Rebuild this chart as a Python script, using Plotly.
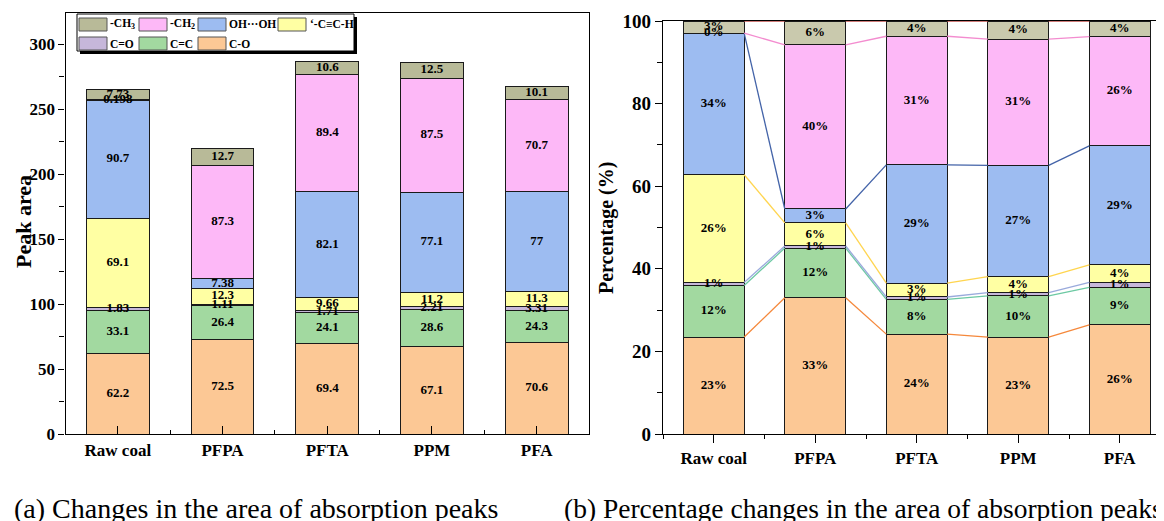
import plotly.graph_objects as go

W, H = 1164, 521
OFF = 8  # page margin of the rendered html body

# ---------------- data ----------------
samples = ["Raw coal", "PFPA", "PFTA", "PPM", "PFA"]
group_names = ["C-O", "C=C", "C=O", "‘-C≡C-H", "OH···OH", "-CH<sub>2</sub>", "-CH<sub>3</sub>"]  # bottom -> top
c_o = [62.2, 72.5, 69.4, 67.1, 70.6]
c_c = [33.1, 26.4, 24.1, 28.6, 24.3]
c_eq_o = [1.83, 1.11, 1.71, 2.21, 3.31]
c_triple_h = [69.1, 12.3, 9.66, 11.2, 11.3]
oh_oh = [90.7, 7.38, 82.1, 77.1, 77]
ch2 = [0.198, 87.3, 89.4, 87.5, 70.7]
ch3 = [7.73, 12.7, 10.6, 12.5, 10.1]
series = [c_o, c_c, c_eq_o, c_triple_h, oh_oh, ch2, ch3]

# ---------------- styles ----------------
fill_left = ["#fcc895", "#a2d9a0", "#c6b7da", "#ffffa3", "#9dbcf1", "#fdb8f7", "#b8ba98"]
fill_right = ["#fcc895", "#a2d9a0", "#c6b7da", "#ffffa3", "#9dbcf1", "#fdb8f7", "#c9c9ad"]
link_colors = ["#f5883b", "#6cc9a3", "#9aaadc", "#ffd54f", "#4363a8", "#f38ccf", "#c0504d"]
FONT = "Liberation Serif"
BW = 0.6

def px(x):
    return (x - OFF) / W

def py(y):
    return 1 - (y - OFF) / H

xs = list(range(len(samples)))
fig = go.Figure()

# ---------------- left: peak areas ----------------
cum = [0.0] * len(samples)
lab_x, lab_y, lab_t = [], [], []
for k, vals in enumerate(series):
    fig.add_trace(go.Bar(
        x=xs, y=vals, width=BW, xaxis="x", yaxis="y",
        marker=dict(color=fill_left[k], line=dict(color="#1a1a1a", width=1)),
        showlegend=False, hoverinfo="skip"))
    for i, v in enumerate(vals):
        lab_x.append(i)
        lab_y.append(cum[i] + v / 2)
        lab_t.append(f"{v:g}")
        cum[i] += v
fig.add_trace(go.Scatter(
    x=lab_x, y=lab_y, text=lab_t, mode="text", xaxis="x", yaxis="y",
    textfont=dict(family=FONT, size=13, color="black", weight="bold"),
    showlegend=False, hoverinfo="skip"))

# ---------------- right: percentages ----------------
totals = [sum(s[i] for s in series) for i in xs]
cum = [0.0] * len(samples)
lab_x, lab_y, lab_t = [], [], []
bounds = []
for k, vals in enumerate(series):
    pct = [v / totals[i] * 100 for i, v in enumerate(vals)]
    fig.add_trace(go.Bar(
        x=xs, y=pct, width=BW, xaxis="x2", yaxis="y2",
        marker=dict(color=fill_right[k], line=dict(color="#1a1a1a", width=1)),
        showlegend=False, hoverinfo="skip"))
    for i, p in enumerate(pct):
        lab_x.append(i)
        lab_y.append(cum[i] + p / 2)
        lab_t.append(f"{int(p + 0.5)}%")
        cum[i] += p
    bounds.append(list(cum))

for k, b in enumerate(bounds):
    lx, ly = [], []
    for i in range(len(samples) - 1):
        lx += [i + BW / 2, i + 1 - BW / 2, None]
        ly += [b[i], b[i + 1], None]
    fig.add_trace(go.Scatter(
        x=lx, y=ly, mode="lines", xaxis="x2", yaxis="y2",
        line=dict(color=link_colors[k], width=1.3),
        showlegend=False, hoverinfo="skip"))

fig.add_trace(go.Scatter(
    x=lab_x, y=lab_y, text=lab_t, mode="text", xaxis="x2", yaxis="y2",
    textfont=dict(family=FONT, size=13, color="black", weight="bold"),
    showlegend=False, hoverinfo="skip"))

# ---------------- axes ----------------
tickfont_x = dict(family=FONT, size=17, color="black", weight="bold")
tickfont_y = dict(family=FONT, size=17, color="black", weight="bold")
tickfont_y2 = dict(family=FONT, size=19, color="black", weight="bold")

fig.update_layout(
    width=W, height=H, margin=dict(l=0, r=0, t=0, b=0, autoexpand=False),
    paper_bgcolor="white", plot_bgcolor="white", barmode="stack",
    xaxis=dict(domain=[px(65.5), px(589)], range=[-0.5, 4.5], automargin=False,
               tickmode="array", tickvals=xs, ticktext=samples,
               ticks="inside", ticklen=8, tickwidth=1.3, tickcolor="black",
               minor=dict(tickmode="array", tickvals=[0.5, 1.5, 2.5, 3.5],
                          ticks="inside", ticklen=4, tickwidth=1.3, tickcolor="black"),
               showline=True, linecolor="black", linewidth=1.3, mirror=True,
               showgrid=False, zeroline=False, tickfont=tickfont_x, anchor="y"),
    yaxis=dict(domain=[py(434), py(13)], range=[0, 324], automargin=False,
               tickmode="linear", tick0=0, dtick=50,
               ticks="outside", ticklen=6, tickwidth=1.3, tickcolor="black",
               minor=dict(dtick=25, tick0=0, ticks="outside", ticklen=5,
                          tickwidth=1.3, tickcolor="black"),
               showline=True, linecolor="black", linewidth=1.3, mirror=True,
               showgrid=False, zeroline=False, tickfont=tickfont_y, anchor="x"),
    xaxis2=dict(domain=[px(663), px(1170.5)], range=[-0.5, 4.5], automargin=False,
                tickmode="array", tickvals=xs, ticktext=samples,
                ticks="outside", ticklen=8, tickwidth=1.3, tickcolor="black",
                minor=dict(tickmode="array", tickvals=[-0.5, 0.5, 1.5, 2.5, 3.5],
                           ticks="outside", ticklen=4, tickwidth=1.3, tickcolor="black"),
                showline=True, linecolor="black", linewidth=1.3, mirror=True,
                showgrid=False, zeroline=False, tickfont=tickfont_x, anchor="y2"),
    yaxis2=dict(domain=[py(434), py(21)], range=[0, 100], automargin=False,
                tickmode="linear", tick0=0, dtick=20,
                ticks="outside", ticklen=7, tickwidth=1.3, tickcolor="black",
                minor=dict(dtick=10, tick0=0, ticks="outside", ticklen=5,
                           tickwidth=1.3, tickcolor="black"),
                showline=True, linecolor="black", linewidth=1.3, mirror=False,
                showgrid=False, zeroline=False, tickfont=tickfont_y2, anchor="x2"),
)

# ---------------- titles & captions ----------------
ann = []
ann.append(dict(x=px(23), y=py(222), xref="paper", yref="paper", text="Peak area",
                textangle=-90, showarrow=False, xanchor="center", yanchor="middle",
                font=dict(family=FONT, size=22, color="black", weight="bold")))
ann.append(dict(x=px(607), y=py(228), xref="paper", yref="paper", text="Percentage (%)",
                textangle=-90, showarrow=False, xanchor="center", yanchor="middle",
                font=dict(family=FONT, size=20, color="black", weight="bold")))
ann.append(dict(x=px(12), y=py(508), xref="paper", yref="paper", xanchor="left",
                yanchor="middle", showarrow=False,
                text="(a) Changes in the area of absorption peaks",
                font=dict(family=FONT, size=28, color="black")))
ann.append(dict(x=px(562), y=py(508), xref="paper", yref="paper", xanchor="left",
                yanchor="middle", showarrow=False,
                text="(b) Percentage changes in the area of absorption peaks",
                font=dict(family=FONT, size=27.5, color="black")))

# ---------------- manual legend ----------------
shapes = []
shapes.append(dict(type="rect", xref="paper", yref="paper", x0=px(80), x1=px(357),
                   y0=py(54), y1=py(17), fillcolor="black", line=dict(width=0), layer="above"))
shapes.append(dict(type="rect", xref="paper", yref="paper", x0=px(77), x1=px(354),
                   y0=py(51), y1=py(14), fillcolor="white",
                   line=dict(color="black", width=1), layer="above"))
legend_order = [6, 5, 4, 3, 2, 1, 0]  # CH3, CH2, OH, C≡C, C=O, C=C, C-O
sw_x = [[79, 139, 198, 278], [79, 139, 198]]
tx_x = [[108, 168, 227, 308], [108, 168, 227]]
sw_y = [(18, 31), (37, 50)]
n = 0
for r in range(2):
    for c in range(len(sw_x[r])):
        k = legend_order[n]
        n += 1
        x0 = sw_x[r][c]
        shapes.append(dict(type="rect", xref="paper", yref="paper",
                           x0=px(x0), x1=px(x0 + 28), y0=py(sw_y[r][1]), y1=py(sw_y[r][0]),
                           fillcolor=fill_left[k], line=dict(color="#555555", width=1),
                           layer="above"))
        ann.append(dict(x=px(tx_x[r][c]), y=py((sw_y[r][0] + sw_y[r][1]) / 2),
                        xref="paper", yref="paper", xanchor="left", yanchor="middle",
                        showarrow=False, text=group_names[k],
                        font=dict(family=FONT, size=11.5, color="black", weight="bold")))

fig.update_layout(annotations=ann, shapes=shapes)
fig.write_html("out.html")
